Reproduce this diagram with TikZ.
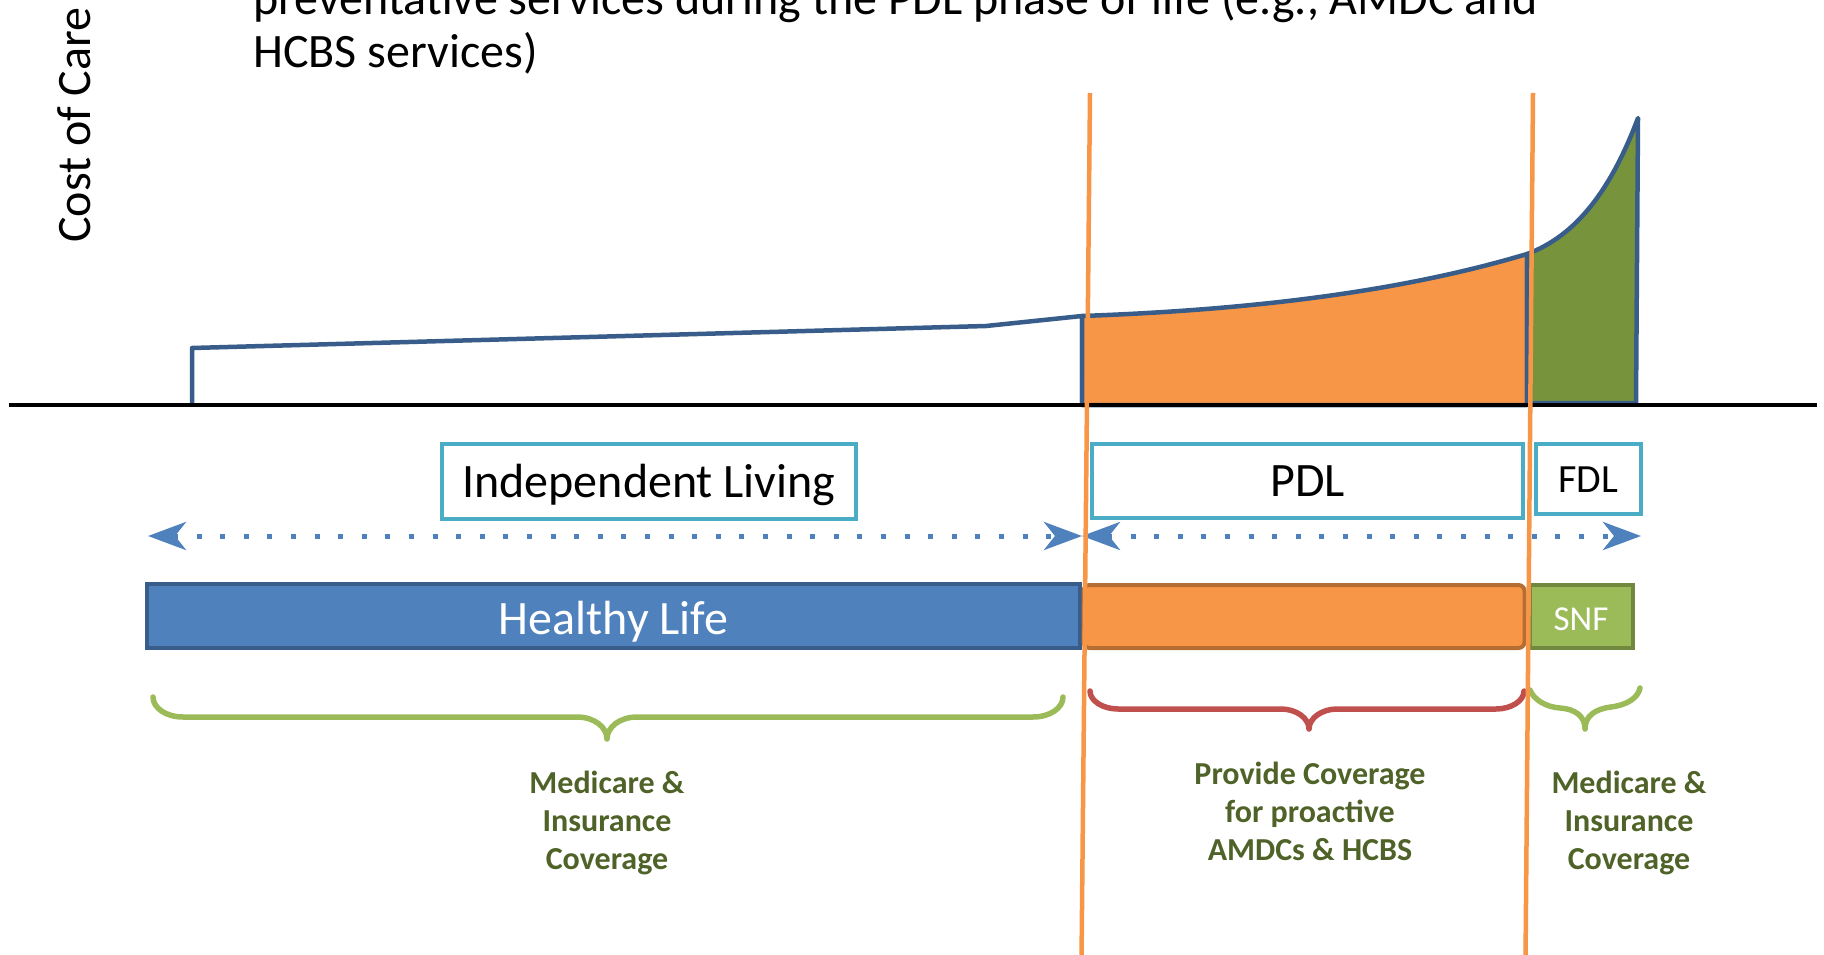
\documentclass[tikz,border=0pt]{standalone}
\usepackage{fontspec}
\setmainfont{Carlito}
\usetikzlibrary{arrows.meta}
\definecolor{outlineblue}{HTML}{385D8A}
\definecolor{accentorange}{HTML}{F79646}
\definecolor{darkorange}{HTML}{B66D31}
\definecolor{olivefill}{HTML}{77933C}
\definecolor{boxcyan}{HTML}{4BACC6}
\definecolor{arrowblue}{HTML}{4F81BD}
\definecolor{snfgreen}{HTML}{9BBB59}
\definecolor{snfborder}{HTML}{71893F}
\definecolor{bracered}{HTML}{C0504D}
\definecolor{textolive}{HTML}{4F6228}
\begin{document}
\begin{tikzpicture}[x=1pt,y=-1pt,
  bigtext/.style={inner sep=0pt, font=\fontsize{48}{53}\selectfont},
  phasebox/.style={draw=boxcyan, line width=4pt, fill=white, inner sep=0pt,
    font=\fontsize{48}{53}\selectfont, text height=31pt, text depth=0pt},
  barbox/.style={line width=4pt, inner sep=0pt, text=white, text height=37pt, text depth=0pt,
    font=\fontsize{48}{53}\selectfont},
  curveline/.style={draw=outlineblue, line width=4.5pt, line join=round},
  lifearrow/.style={arrowblue, line width=5pt, dash pattern=on 5pt off 18.6pt,
    arrows={Stealth[length=38pt,width=28pt,inset=11pt]-Stealth[length=38pt,width=28pt,inset=11pt]}},
  bracepath/.style={line width=5.5pt, line cap=round, line join=round},
  covertext/.style={inner sep=0pt, align=center, text=textolive,
    font=\fontsize{32}{38}\selectfont\bfseries},
  phaseline/.style={accentorange, line width=4.5pt}
]
\useasboundingbox (0,0) rectangle (1824,955);
\clip (0,0) rectangle (1824,955);

% header text (cut at the top)
\node[bigtext, anchor=base west] (headA) at (253,15) {preventative services during the PDL phase of life (e.g., AMDC and};
\node[bigtext, anchor=base west] (headB) at (253,68) {HCBS services)};
\node[bigtext, rotate=90, anchor=base west] (ylabel) at (90,243) {Cost of Care};

% cost curve
\draw[curveline, fill=white] (192,405) -- (192,348) -- (986,326) -- (1082,316) -- (1082,405);
\filldraw[curveline, fill=accentorange] (1082,316) .. controls (1250,310) and (1400,292) .. (1527,254)
  -- (1527,405) -- (1082,405) -- cycle;
\filldraw[curveline, fill=olivefill] (1527,254) .. controls (1576,236) and (1611,190) .. (1638,118)
  -- (1636,403) -- (1527,403) -- cycle;
\draw[line width=3.5pt] (9,405) -- (1817,405);

% phase boxes
\node[phasebox, minimum width=414pt, minimum height=75pt] (indep) at (649,481.5) {Independent Living};
\node[phasebox, minimum width=431pt, minimum height=74pt] (pdl) at (1307.5,481) {PDL};
\node[phasebox, minimum width=105pt, minimum height=70pt, font=\fontsize{40}{48}\selectfont, text height=26pt] (fdl) at (1588.5,479) {FDL};

% dotted arrows
\coordinate (arrLa) at (148,536);
\coordinate (arrRa) at (1082,536);
\coordinate (arrLb) at (1082,536);
\coordinate (arrRb) at (1641,536);
\draw[lifearrow] (arrLa) -- (arrRa);
\draw[lifearrow] (arrLb) -- (arrRb);

% bars
\node[barbox, draw=outlineblue, fill=arrowblue, minimum width=933pt, minimum height=64pt] (healthy) at (613.5,616) {Healthy Life};
\node[barbox, draw=darkorange, fill=accentorange, rounded corners=6pt, minimum width=441pt, minimum height=63pt] (pdlbar) at (1304,616.5) {};
\node[barbox, draw=snfborder, fill=snfgreen, minimum width=103pt, minimum height=63pt,
  font=\fontsize{35}{42}\selectfont, text height=27pt] (snf) at (1581,616.5) {SNF};

% braces
\draw[bracepath, snfgreen] (153,697) .. controls (153,708) and (166,717) .. (183,717)
  -- (577,717) .. controls (594,717) and (607,727) .. (607,739)
  .. controls (607,727) and (620,717) .. (637,717)
  -- (1033,717) .. controls (1050,717) and (1063,708) .. (1063,697);
\draw[bracepath, bracered] (1090,691) .. controls (1090,701) and (1103,709) .. (1118,709)
  -- (1281,709) .. controls (1296,709) and (1309,718) .. (1309,729)
  .. controls (1309,718) and (1322,709) .. (1337,709)
  -- (1496,709) .. controls (1511,709) and (1524,701) .. (1524,691);
\draw[bracepath, snfgreen] (1530,690) .. controls (1534,700) and (1546,707) .. (1560,708)
  .. controls (1575,709) and (1585,716) .. (1585,729)
  .. controls (1585,716) and (1595,709) .. (1611,707)
  .. controls (1627,705) and (1638,698) .. (1640,688);

% coverage texts
\node[covertext] (covL) at (607,822.5) {Medicare \&\\Insurance\\Coverage};
\node[covertext] (covM) at (1310,811) {Provide Coverage\\for proactive\\AMDCs \& HCBS};
\node[covertext] (covR) at (1629,822.5) {Medicare \&\\Insurance\\Coverage};

% phase separators
\coordinate (sepAtop) at (1090,93);
\coordinate (sepAbot) at (1081.5,960);
\coordinate (sepBtop) at (1533,93);
\coordinate (sepBbot) at (1525.5,960);
\draw[phaseline] (sepAtop) -- (sepAbot);
\draw[phaseline] (sepBtop) -- (sepBbot);
\end{tikzpicture}
\end{document}
